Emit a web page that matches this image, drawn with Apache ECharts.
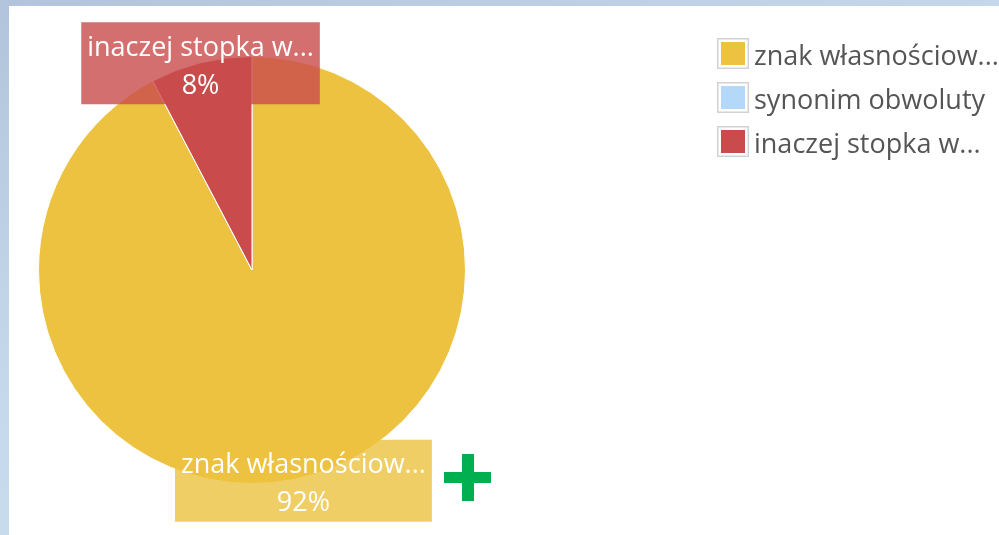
<!DOCTYPE html>
<html>
<head>
<meta charset="utf-8">
<script src="https://cdn.jsdelivr.net/npm/echarts@6/dist/echarts.min.js"></script>
<style>
  html, body { margin: 0; padding: 0; width: 999px; height: 535px; overflow: hidden; }
  body { background: linear-gradient(160deg, #b2c4db 0%, #c6d9ec 45%, #cde0f1 100%); position: relative; }
  #frame { position: absolute; left: 9px; top: 6px; right: 0; bottom: 0; background: #fff; }
  #chart { position: absolute; left: 0; top: 0; width: 999px; height: 535px; }
</style>
</head>
<body>
<div id="frame"></div>
<div id="chart"></div>
<script>
const categories = ['znak własnościow...', 'synonim obwoluty', 'inaczej stopka w...'];
const values = [12, 0, 1];
const colors = ['#ecc240', '#b3d8f8', '#c94b4b'];

function rgba(hex, a) {
  const n = parseInt(hex.slice(1), 16);
  return 'rgba(' + ((n >> 16) & 255) + ',' + ((n >> 8) & 255) + ',' + (n & 255) + ',' + a + ')';
}
// legend icon: framed square in the upper part of a 32x39 image (keeps text a bit lower than the box)
function legendIcon(color) {
  const svg = '<svg xmlns="http://www.w3.org/2000/svg" width="32" height="39" viewBox="0 0 32 39">' +
    '<rect x="0.75" y="0.75" width="30.5" height="29.5" fill="#fff" stroke="#d2d2d2" stroke-width="1.5"/>' +
    '<rect x="4" y="4" width="24" height="23" fill="' + color + '"/></svg>';
  return 'image://data:image/svg+xml;charset=utf-8,' + encodeURIComponent(svg);
}

const font = '"Open Sans", "Noto Sans", sans-serif';
const chart = echarts.init(document.getElementById('chart'), null, { renderer: 'canvas' });

const pieData = categories.map((c, i) => ({ name: c, value: values[i], itemStyle: { color: colors[i] } }));
const labelData = categories.map((c, i) => ({
  name: c, value: values[i],
  label: values[i] === 0 ? { show: false } : { show: true, backgroundColor: rgba(colors[i], 0.8) }
}));

chart.setOption({
  animation: false,
  backgroundColor: 'transparent',
  legend: {
    orient: 'vertical',
    left: 717,
    top: 38,
    padding: 0,
    itemWidth: 32,
    itemHeight: 39,
    itemGap: 5,
    textStyle: { fontFamily: font, fontSize: 27, color: '#555555' },
    data: categories.map((c, i) => ({ name: c, icon: legendIcon(colors[i]) }))
  },
  series: [
    {
      type: 'pie',
      center: [252, 270],
      radius: 213.5,
      startAngle: 90,
      clockwise: true,
      silent: true,
      label: { show: false },
      labelLine: { show: false },
      itemStyle: { borderColor: '#fff', borderWidth: 1 },
      data: pieData
    },
    {
      type: 'pie',
      center: [252, 272],
      radius: 424,
      startAngle: 90,
      clockwise: true,
      silent: true,
      legendHoverLink: false,
      itemStyle: { color: 'rgba(0,0,0,0)', borderWidth: 0 },
      label: {
        show: true,
        position: 'inside',
        fontFamily: font,
        fontSize: 27,
        color: '#fff',
        padding: [6, 6, 0, 6],
        align: 'center',
        formatter: p => '{n|' + p.name + '}\n{p|' + Math.round(p.percent) + '%}',
        rich: {
          n: { fontFamily: font, fontSize: 27, color: '#fff', lineHeight: 40 },
          p: { fontFamily: font, fontSize: 27, color: '#fff', lineHeight: 36 }
        }
      },
      labelLine: { show: false },
      data: labelData
    }
  ],
  graphic: [
    { type: 'rect', shape: { x: 462, y: 454, width: 12, height: 47 }, style: { fill: '#00b050' } },
    { type: 'rect', shape: { x: 444, y: 472, width: 47, height: 11 }, style: { fill: '#00b050' } }
  ]
});
</script>
</body>
</html>
